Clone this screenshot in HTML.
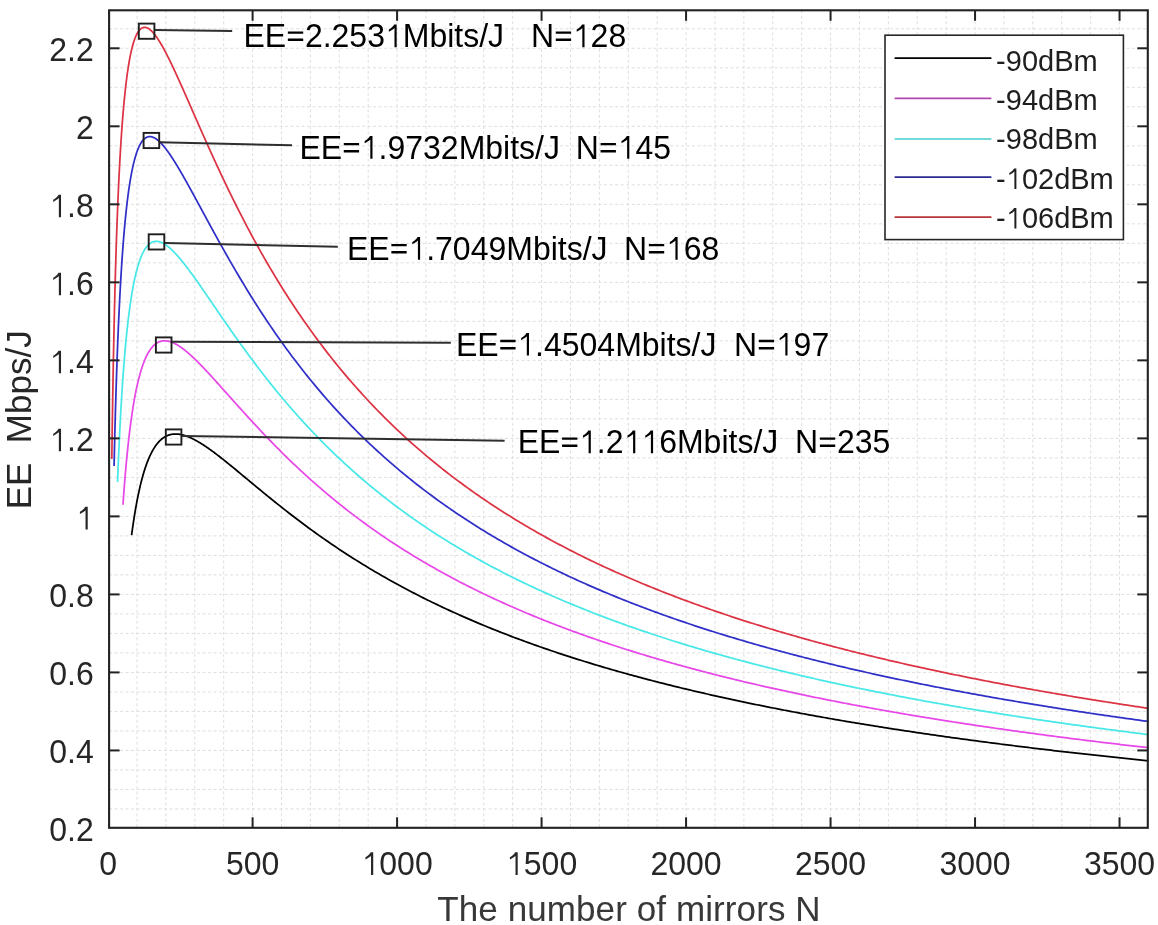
<!DOCTYPE html>
<html><head><meta charset="utf-8"><style>html,body{margin:0;padding:0;width:1158px;height:925px;overflow:hidden;background:#fff} svg{font-family:"Liberation Sans",sans-serif}</style></head>
<body><svg width="1158" height="925" viewBox="0 0 1158 925" style="position:absolute;left:0;top:0;will-change:transform">

<g stroke="#dedede" stroke-width="1" stroke-dasharray="3 2.5"><line x1="137.01" y1="10.3" x2="137.01" y2="827.8"/><line x1="165.91" y1="10.3" x2="165.91" y2="827.8"/><line x1="194.80" y1="10.3" x2="194.80" y2="827.8"/><line x1="223.70" y1="10.3" x2="223.70" y2="827.8"/><line x1="252.60" y1="10.3" x2="252.60" y2="827.8"/><line x1="281.50" y1="10.3" x2="281.50" y2="827.8"/><line x1="310.40" y1="10.3" x2="310.40" y2="827.8"/><line x1="339.29" y1="10.3" x2="339.29" y2="827.8"/><line x1="368.19" y1="10.3" x2="368.19" y2="827.8"/><line x1="397.09" y1="10.3" x2="397.09" y2="827.8"/><line x1="425.99" y1="10.3" x2="425.99" y2="827.8"/><line x1="454.89" y1="10.3" x2="454.89" y2="827.8"/><line x1="483.78" y1="10.3" x2="483.78" y2="827.8"/><line x1="512.68" y1="10.3" x2="512.68" y2="827.8"/><line x1="541.58" y1="10.3" x2="541.58" y2="827.8"/><line x1="570.48" y1="10.3" x2="570.48" y2="827.8"/><line x1="599.38" y1="10.3" x2="599.38" y2="827.8"/><line x1="628.27" y1="10.3" x2="628.27" y2="827.8"/><line x1="657.17" y1="10.3" x2="657.17" y2="827.8"/><line x1="686.07" y1="10.3" x2="686.07" y2="827.8"/><line x1="714.97" y1="10.3" x2="714.97" y2="827.8"/><line x1="743.87" y1="10.3" x2="743.87" y2="827.8"/><line x1="772.76" y1="10.3" x2="772.76" y2="827.8"/><line x1="801.66" y1="10.3" x2="801.66" y2="827.8"/><line x1="830.56" y1="10.3" x2="830.56" y2="827.8"/><line x1="859.46" y1="10.3" x2="859.46" y2="827.8"/><line x1="888.36" y1="10.3" x2="888.36" y2="827.8"/><line x1="917.25" y1="10.3" x2="917.25" y2="827.8"/><line x1="946.15" y1="10.3" x2="946.15" y2="827.8"/><line x1="975.05" y1="10.3" x2="975.05" y2="827.8"/><line x1="1003.95" y1="10.3" x2="1003.95" y2="827.8"/><line x1="1032.85" y1="10.3" x2="1032.85" y2="827.8"/><line x1="1061.74" y1="10.3" x2="1061.74" y2="827.8"/><line x1="1090.64" y1="10.3" x2="1090.64" y2="827.8"/><line x1="1119.54" y1="10.3" x2="1119.54" y2="827.8"/><line x1="109.1" y1="808.95" x2="1147.8" y2="808.95"/><line x1="109.1" y1="789.45" x2="1147.8" y2="789.45"/><line x1="109.1" y1="769.94" x2="1147.8" y2="769.94"/><line x1="109.1" y1="750.44" x2="1147.8" y2="750.44"/><line x1="109.1" y1="730.93" x2="1147.8" y2="730.93"/><line x1="109.1" y1="711.43" x2="1147.8" y2="711.43"/><line x1="109.1" y1="691.93" x2="1147.8" y2="691.93"/><line x1="109.1" y1="672.42" x2="1147.8" y2="672.42"/><line x1="109.1" y1="652.92" x2="1147.8" y2="652.92"/><line x1="109.1" y1="633.41" x2="1147.8" y2="633.41"/><line x1="109.1" y1="613.91" x2="1147.8" y2="613.91"/><line x1="109.1" y1="594.41" x2="1147.8" y2="594.41"/><line x1="109.1" y1="574.90" x2="1147.8" y2="574.90"/><line x1="109.1" y1="555.40" x2="1147.8" y2="555.40"/><line x1="109.1" y1="535.89" x2="1147.8" y2="535.89"/><line x1="109.1" y1="516.39" x2="1147.8" y2="516.39"/><line x1="109.1" y1="496.89" x2="1147.8" y2="496.89"/><line x1="109.1" y1="477.38" x2="1147.8" y2="477.38"/><line x1="109.1" y1="457.88" x2="1147.8" y2="457.88"/><line x1="109.1" y1="438.37" x2="1147.8" y2="438.37"/><line x1="109.1" y1="418.87" x2="1147.8" y2="418.87"/><line x1="109.1" y1="399.37" x2="1147.8" y2="399.37"/><line x1="109.1" y1="379.86" x2="1147.8" y2="379.86"/><line x1="109.1" y1="360.36" x2="1147.8" y2="360.36"/><line x1="109.1" y1="340.85" x2="1147.8" y2="340.85"/><line x1="109.1" y1="321.35" x2="1147.8" y2="321.35"/><line x1="109.1" y1="301.85" x2="1147.8" y2="301.85"/><line x1="109.1" y1="282.34" x2="1147.8" y2="282.34"/><line x1="109.1" y1="262.84" x2="1147.8" y2="262.84"/><line x1="109.1" y1="243.33" x2="1147.8" y2="243.33"/><line x1="109.1" y1="223.83" x2="1147.8" y2="223.83"/><line x1="109.1" y1="204.33" x2="1147.8" y2="204.33"/><line x1="109.1" y1="184.82" x2="1147.8" y2="184.82"/><line x1="109.1" y1="165.32" x2="1147.8" y2="165.32"/><line x1="109.1" y1="145.81" x2="1147.8" y2="145.81"/><line x1="109.1" y1="126.31" x2="1147.8" y2="126.31"/><line x1="109.1" y1="106.81" x2="1147.8" y2="106.81"/><line x1="109.1" y1="87.30" x2="1147.8" y2="87.30"/><line x1="109.1" y1="67.80" x2="1147.8" y2="67.80"/><line x1="109.1" y1="48.29" x2="1147.8" y2="48.29"/><line x1="109.1" y1="28.79" x2="1147.8" y2="28.79"/></g>
<polyline fill="none" stroke="#000000" stroke-width="1.75" stroke-linejoin="round" points="131.59,535.21 131.89,532.91 132.20,530.65 132.51,528.45 132.82,526.29 133.13,524.17 133.44,522.10 133.74,520.07 134.05,518.09 134.36,516.14 134.67,514.24 134.98,512.37 135.28,510.55 135.59,508.76 135.90,507.00 136.21,505.29 136.52,503.61 136.82,501.96 137.13,500.35 137.44,498.77 137.75,497.22 138.06,495.70 138.36,494.22 138.67,492.76 138.98,491.34 139.29,489.94 139.60,488.57 139.90,487.23 140.21,485.92 140.52,484.63 140.83,483.37 141.14,482.14 141.45,480.93 141.75,479.75 142.06,478.59 142.37,477.45 142.68,476.34 142.99,475.25 143.29,474.18 143.60,473.13 143.91,472.11 144.22,471.11 144.53,470.12 144.83,469.16 145.14,468.22 145.45,467.30 145.76,466.39 146.07,465.51 146.37,464.64 146.68,463.79 146.99,462.96 147.30,462.15 147.61,461.35 147.91,460.58 148.22,459.81 148.53,459.07 148.84,458.34 149.15,457.62 149.46,456.92 149.76,456.24 150.07,455.57 150.38,454.92 150.69,454.28 151.00,453.65 151.30,453.04 151.61,452.44 151.92,451.86 152.23,451.28 152.54,450.73 152.84,450.18 153.15,449.65 153.46,449.12 153.77,448.61 154.08,448.12 154.38,447.63 154.69,447.16 155.00,446.69 155.31,446.24 155.62,445.80 155.92,445.37 156.23,444.95 156.54,444.54 156.85,444.14 157.16,443.75 157.47,443.37 157.77,443.01 158.08,442.65 158.39,442.29 158.70,441.95 159.01,441.62 159.31,441.30 159.62,440.98 159.93,440.68 160.24,440.38 160.55,440.09 160.85,439.81 161.16,439.54 161.47,439.28 161.78,439.02 162.09,438.77 162.39,438.53 162.70,438.30 163.01,438.07 163.32,437.85 163.63,437.64 163.93,437.44 164.24,437.24 164.55,437.05 164.86,436.87 165.17,436.69 165.48,436.52 165.78,436.35 166.09,436.20 166.40,436.04 166.71,435.90 167.02,435.76 167.32,435.63 167.63,435.50 167.94,435.38 168.25,435.26 168.56,435.15 168.86,435.05 169.17,434.95 169.48,434.86 169.79,434.77 170.10,434.68 170.40,434.61 170.71,434.53 171.02,434.46 171.33,434.40 171.64,434.34 171.94,434.29 172.25,434.24 172.56,434.20 172.87,434.16 173.18,434.12 173.49,434.09 173.79,434.07 174.10,434.04 174.41,434.03 174.72,434.01 175.03,434.00 175.33,434.00 175.64,434.00 175.95,434.00 176.26,434.01 176.57,434.02 176.87,434.03 177.18,434.05 177.49,434.07 177.80,434.10 178.11,434.13 178.41,434.16 178.72,434.19 179.03,434.23 179.34,434.28 179.65,434.32 179.95,434.37 180.26,434.42 180.57,434.48 180.88,434.54 181.19,434.60 181.50,434.67 181.80,434.73 182.11,434.80 182.42,434.88 182.73,434.95 183.04,435.03 183.34,435.12 183.65,435.20 183.96,435.29 184.27,435.38 184.58,435.47 184.88,435.57 185.19,435.67 185.50,435.77 185.81,435.87 186.12,435.98 186.42,436.09 186.73,436.20 187.04,436.31 187.35,436.43 187.66,436.54 187.96,436.66 188.27,436.79 188.58,436.91 188.89,437.04 189.20,437.17 189.51,437.30 189.81,437.43 190.12,437.56 190.43,437.70 190.74,437.84 191.05,437.98 191.35,438.12 191.66,438.27 191.97,438.42 192.28,438.56 192.59,438.71 192.89,438.87 193.20,439.02 193.51,439.18 193.82,439.33 194.13,439.49 194.43,439.65 194.74,439.82 195.05,439.98 195.36,440.15 195.67,440.31 195.97,440.48 196.28,440.65 196.59,440.82 196.90,441.00 197.21,441.17 197.52,441.35 197.82,441.53 198.13,441.70 198.44,441.88 198.75,442.07 199.06,442.25 199.36,442.43 199.67,442.62 199.98,442.81 200.29,443.00 200.60,443.19 200.90,443.38 201.21,443.57 201.52,443.76 201.83,443.96 202.14,444.15 202.44,444.35 202.75,444.55 203.06,444.75 203.37,444.95 203.68,445.15 203.99,445.35 204.29,445.55 204.60,445.76 204.91,445.96 205.22,446.17 205.53,446.38 205.83,446.58 206.14,446.79 206.45,447.00 206.76,447.22 207.07,447.43 207.37,447.64 207.68,447.85 207.99,448.07 208.30,448.28 208.61,448.50 208.91,448.72 209.22,448.94 209.53,449.16 209.84,449.38 210.15,449.60 210.45,449.82 210.76,450.04 211.07,450.26 211.38,450.49 211.69,450.71 212.00,450.93 212.30,451.16 212.61,451.39 212.92,451.61 213.23,451.84 213.54,452.07 213.84,452.30 214.15,452.53 214.46,452.76 214.77,452.99 215.08,453.22 215.38,453.45 215.69,453.69 216.00,453.92 216.31,454.15 216.62,454.39 216.92,454.62 217.23,454.86 217.54,455.09 217.85,455.33 218.16,455.57 218.46,455.80 218.77,456.04 219.08,456.28 219.39,456.52 219.70,456.76 220.01,457.00 220.31,457.24 220.62,457.48 220.93,457.72 221.24,457.96 221.55,458.20 221.85,458.45 222.16,458.69 222.47,458.93 222.78,459.18 223.09,459.42 223.39,459.66 223.70,459.91 223.99,460.14 226.31,461.99 228.62,463.86 230.94,465.75 233.26,467.64 235.58,469.55 237.89,471.46 240.21,473.38 242.53,475.30 244.84,477.23 247.16,479.15 249.48,481.08 251.79,483.00 254.11,484.93 256.43,486.84 258.74,488.76 261.06,490.67 263.38,492.57 265.70,494.47 268.01,496.36 270.33,498.24 272.65,500.11 274.96,501.98 277.28,503.83 279.60,505.68 281.91,507.51 284.23,509.34 286.55,511.15 288.86,512.95 291.18,514.75 293.50,516.53 295.82,518.30 298.13,520.06 300.45,521.80 302.77,523.54 305.08,525.26 307.40,526.97 309.72,528.67 312.03,530.36 314.35,532.03 316.67,533.70 318.98,535.35 321.30,536.99 323.62,538.61 325.94,540.23 328.25,541.83 330.57,543.42 332.89,545.00 335.20,546.56 337.52,548.11 339.84,549.66 342.15,551.19 344.47,552.71 346.79,554.21 349.10,555.71 351.42,557.19 353.74,558.66 356.05,560.12 358.37,561.57 360.69,563.01 363.01,564.43 365.32,565.85 367.64,567.25 369.96,568.64 372.27,570.03 374.59,571.40 376.91,572.76 379.22,574.11 381.54,575.45 383.86,576.78 386.17,578.09 388.49,579.40 390.81,580.70 393.13,581.99 395.44,583.27 397.76,584.53 400.08,585.79 402.39,587.04 404.71,588.28 407.03,589.51 409.34,590.73 411.66,591.94 413.98,593.14 416.29,594.33 418.61,595.52 420.93,596.69 423.25,597.85 425.56,599.01 427.88,600.16 430.20,601.30 432.51,602.43 434.83,603.55 437.15,604.66 439.46,605.77 441.78,606.86 444.10,607.95 446.41,609.03 448.73,610.11 451.05,611.17 453.37,612.23 455.68,613.28 458.00,614.32 460.32,615.35 462.63,616.38 464.95,617.40 467.27,618.41 469.58,619.41 471.90,620.41 474.22,621.40 476.53,622.38 478.85,623.36 481.17,624.33 483.48,625.29 485.80,626.24 488.12,627.19 490.44,628.13 492.75,629.07 495.07,630.00 497.39,630.92 499.70,631.83 502.02,632.74 504.34,633.65 506.65,634.54 508.97,635.43 511.29,636.32 513.60,637.20 515.92,638.07 518.24,638.93 520.56,639.80 522.87,640.65 525.19,641.50 527.51,642.34 529.82,643.18 532.14,644.01 534.46,644.84 536.77,645.66 539.09,646.48 541.41,647.29 543.72,648.09 546.04,648.89 548.36,649.69 550.68,650.48 552.99,651.26 555.31,652.04 557.63,652.81 559.94,653.58 562.26,654.35 564.58,655.11 566.89,655.86 569.21,656.61 571.53,657.36 573.84,658.10 576.16,658.83 578.48,659.56 580.80,660.29 583.11,661.01 585.43,661.73 587.75,662.44 590.06,663.15 592.38,663.85 594.70,664.55 597.01,665.25 599.33,665.94 601.65,666.63 603.96,667.31 606.28,667.99 608.60,668.66 610.91,669.33 613.23,670.00 615.55,670.66 617.87,671.32 620.18,671.98 622.50,672.63 624.82,673.28 627.13,673.92 629.45,674.56 631.77,675.19 634.08,675.83 636.40,676.45 638.72,677.08 641.03,677.70 643.35,678.32 645.67,678.93 647.99,679.54 650.30,680.15 652.62,680.75 654.94,681.35 657.25,681.95 659.57,682.54 661.89,683.13 664.20,683.72 666.52,684.30 668.84,684.88 671.15,685.46 673.47,686.03 675.79,686.60 678.11,687.17 680.42,687.73 682.74,688.29 685.06,688.85 687.37,689.41 689.69,689.96 692.01,690.51 694.32,691.05 696.64,691.59 698.96,692.13 701.27,692.67 703.59,693.21 705.91,693.74 708.23,694.27 710.54,694.79 712.86,695.31 715.18,695.83 717.49,696.35 719.81,696.87 722.13,697.38 724.44,697.89 726.76,698.39 729.08,698.90 731.39,699.40 733.71,699.90 736.03,700.39 738.34,700.89 740.66,701.38 742.98,701.87 745.30,702.35 747.61,702.84 749.93,703.32 752.25,703.79 754.56,704.27 756.88,704.74 759.20,705.22 761.51,705.68 763.83,706.15 766.15,706.62 768.46,707.08 770.78,707.54 773.10,708.00 775.42,708.45 777.73,708.90 780.05,709.35 782.37,709.80 784.68,710.25 787.00,710.69 789.32,711.13 791.63,711.57 793.95,712.01 796.27,712.45 798.58,712.88 800.90,713.31 803.22,713.74 805.54,714.17 807.85,714.59 810.17,715.02 812.49,715.44 814.80,715.86 817.12,716.27 819.44,716.69 821.75,717.10 824.07,717.51 826.39,717.92 828.70,718.33 831.02,718.74 833.34,719.14 835.66,719.54 837.97,719.94 840.29,720.34 842.61,720.74 844.92,721.13 847.24,721.52 849.56,721.92 851.87,722.30 854.19,722.69 856.51,723.08 858.82,723.46 861.14,723.84 863.46,724.22 865.78,724.60 868.09,724.98 870.41,725.35 872.73,725.73 875.04,726.10 877.36,726.47 879.68,726.84 881.99,727.21 884.31,727.57 886.63,727.94 888.94,728.30 891.26,728.66 893.58,729.02 895.89,729.38 898.21,729.73 900.53,730.09 902.85,730.44 905.16,730.79 907.48,731.14 909.80,731.49 912.11,731.84 914.43,732.18 916.75,732.52 919.06,732.87 921.38,733.21 923.70,733.55 926.01,733.89 928.33,734.22 930.65,734.56 932.97,734.89 935.28,735.22 937.60,735.55 939.92,735.88 942.23,736.21 944.55,736.54 946.87,736.87 949.18,737.19 951.50,737.51 953.82,737.83 956.13,738.15 958.45,738.47 960.77,738.79 963.09,739.11 965.40,739.42 967.72,739.74 970.04,740.05 972.35,740.36 974.67,740.67 976.99,740.98 979.30,741.29 981.62,741.59 983.94,741.90 986.25,742.20 988.57,742.50 990.89,742.81 993.21,743.11 995.52,743.40 997.84,743.70 1000.16,744.00 1002.47,744.29 1004.79,744.59 1007.11,744.88 1009.42,745.17 1011.74,745.47 1014.06,745.75 1016.37,746.04 1018.69,746.33 1021.01,746.62 1023.32,746.90 1025.64,747.19 1027.96,747.47 1030.28,747.75 1032.59,748.03 1034.91,748.31 1037.23,748.59 1039.54,748.87 1041.86,749.15 1044.18,749.42 1046.49,749.70 1048.81,749.97 1051.13,750.24 1053.44,750.51 1055.76,750.78 1058.08,751.05 1060.40,751.32 1062.71,751.59 1065.03,751.86 1067.35,752.12 1069.66,752.39 1071.98,752.65 1074.30,752.91 1076.61,753.17 1078.93,753.43 1081.25,753.69 1083.56,753.95 1085.88,754.21 1088.20,754.47 1090.52,754.72 1092.83,754.98 1095.15,755.23 1097.47,755.49 1099.78,755.74 1102.10,755.99 1104.42,756.24 1106.73,756.49 1109.05,756.74 1111.37,756.98 1113.68,757.23 1116.00,757.48 1118.32,757.72 1120.64,757.97 1122.95,758.21 1125.27,758.45 1127.59,758.69 1129.90,758.93 1132.22,759.17 1134.54,759.41 1136.85,759.65 1139.17,759.89 1141.49,760.13 1143.80,760.36 1146.12,760.60 1148.44,760.83"/><polyline fill="none" stroke="#e848e8" stroke-width="1.75" stroke-linejoin="round" points="122.98,504.69 123.31,499.88 123.65,495.22 123.99,490.69 124.32,486.30 124.66,482.04 125.00,477.90 125.33,473.89 125.67,469.99 126.01,466.20 126.34,462.52 126.68,458.94 127.02,455.47 127.35,452.09 127.69,448.81 128.03,445.62 128.37,442.52 128.70,439.50 129.04,436.57 129.38,433.71 129.71,430.94 130.05,428.24 130.39,425.61 130.72,423.05 131.06,420.57 131.40,418.15 131.73,415.79 132.07,413.50 132.41,411.27 132.74,409.09 133.08,406.98 133.42,404.92 133.76,402.92 134.09,400.96 134.43,399.06 134.77,397.22 135.10,395.42 135.44,393.66 135.78,391.96 136.11,390.29 136.45,388.68 136.79,387.10 137.12,385.57 137.46,384.08 137.80,382.62 138.13,381.21 138.47,379.83 138.81,378.49 139.15,377.19 139.48,375.92 139.82,374.68 140.16,373.48 140.49,372.31 140.83,371.17 141.17,370.07 141.50,368.99 141.84,367.94 142.18,366.93 142.51,365.94 142.85,364.97 143.19,364.04 143.52,363.13 143.86,362.24 144.20,361.38 144.54,360.55 144.87,359.74 145.21,358.95 145.55,358.19 145.88,357.45 146.22,356.73 146.56,356.03 146.89,355.36 147.23,354.70 147.57,354.06 147.90,353.45 148.24,352.85 148.58,352.27 148.91,351.71 149.25,351.17 149.59,350.65 149.93,350.14 150.26,349.65 150.60,349.18 150.94,348.72 151.27,348.28 151.61,347.86 151.95,347.45 152.28,347.06 152.62,346.68 152.96,346.31 153.29,345.96 153.63,345.62 153.97,345.30 154.30,344.99 154.64,344.69 154.98,344.41 155.32,344.14 155.65,343.88 155.99,343.63 156.33,343.40 156.66,343.17 157.00,342.96 157.34,342.76 157.67,342.57 158.01,342.39 158.35,342.22 158.68,342.06 159.02,341.91 159.36,341.78 159.69,341.65 160.03,341.53 160.37,341.42 160.71,341.32 161.04,341.23 161.38,341.15 161.72,341.07 162.05,341.01 162.39,340.95 162.73,340.90 163.06,340.86 163.40,340.83 163.74,340.81 164.07,340.79 164.41,340.78 164.75,340.78 165.09,340.79 165.42,340.80 165.76,340.82 166.10,340.84 166.43,340.88 166.77,340.92 167.11,340.96 167.44,341.02 167.78,341.08 168.12,341.14 168.45,341.21 168.79,341.29 169.13,341.37 169.46,341.46 169.80,341.56 170.14,341.66 170.48,341.76 170.81,341.87 171.15,341.99 171.49,342.11 171.82,342.24 172.16,342.37 172.50,342.51 172.83,342.65 173.17,342.79 173.51,342.94 173.84,343.10 174.18,343.26 174.52,343.42 174.85,343.59 175.19,343.76 175.53,343.94 175.87,344.12 176.20,344.30 176.54,344.49 176.88,344.69 177.21,344.88 177.55,345.08 177.89,345.29 178.22,345.49 178.56,345.70 178.90,345.92 179.23,346.14 179.57,346.36 179.91,346.58 180.24,346.81 180.58,347.04 180.92,347.27 181.26,347.51 181.59,347.75 181.93,347.99 182.27,348.24 182.60,348.49 182.94,348.74 183.28,349.00 183.61,349.25 183.95,349.51 184.29,349.78 184.62,350.04 184.96,350.31 185.30,350.58 185.63,350.85 185.97,351.12 186.31,351.40 186.65,351.68 186.98,351.96 187.32,352.25 187.66,352.53 187.99,352.82 188.33,353.11 188.67,353.40 189.00,353.70 189.34,353.99 189.68,354.29 190.01,354.59 190.35,354.90 190.69,355.20 191.02,355.51 191.36,355.81 191.70,356.12 192.04,356.43 192.37,356.75 192.71,357.06 193.05,357.38 193.38,357.69 193.72,358.01 194.06,358.33 194.39,358.66 194.73,358.98 195.07,359.30 195.40,359.63 195.74,359.96 196.08,360.29 196.41,360.62 196.75,360.95 197.09,361.28 197.43,361.62 197.76,361.95 198.10,362.29 198.44,362.63 198.77,362.97 199.11,363.31 199.45,363.65 199.78,363.99 200.12,364.34 200.46,364.68 200.79,365.03 201.13,365.37 201.47,365.72 201.80,366.07 202.14,366.42 202.48,366.77 202.82,367.12 203.15,367.47 203.49,367.82 203.83,368.18 204.16,368.53 204.50,368.89 204.84,369.24 205.17,369.60 205.51,369.96 205.85,370.32 206.18,370.68 206.52,371.04 206.86,371.40 207.19,371.76 207.53,372.12 207.87,372.48 208.21,372.84 208.54,373.21 208.88,373.57 209.22,373.94 209.55,374.30 209.89,374.67 210.23,375.03 210.56,375.40 210.90,375.77 211.24,376.14 211.57,376.50 211.91,376.87 212.25,377.24 212.58,377.61 212.92,377.98 213.26,378.35 213.60,378.72 213.93,379.09 214.27,379.47 214.61,379.84 214.94,380.21 215.28,380.58 215.62,380.96 215.95,381.33 216.29,381.70 216.63,382.08 216.96,382.45 217.30,382.82 217.64,383.20 217.98,383.57 218.31,383.95 218.65,384.32 218.99,384.70 219.32,385.08 219.66,385.45 220.00,385.83 220.33,386.20 220.67,386.58 221.01,386.96 221.34,387.33 221.68,387.71 222.02,388.09 222.35,388.46 222.69,388.84 223.03,389.22 223.37,389.60 223.70,389.97 223.99,390.30 226.31,392.90 228.62,395.50 230.94,398.09 233.26,400.69 235.58,403.28 237.89,405.87 240.21,408.44 242.53,411.01 244.84,413.57 247.16,416.12 249.48,418.65 251.79,421.18 254.11,423.68 256.43,426.18 258.74,428.66 261.06,431.12 263.38,433.57 265.70,436.00 268.01,438.41 270.33,440.81 272.65,443.19 274.96,445.55 277.28,447.89 279.60,450.22 281.91,452.53 284.23,454.82 286.55,457.09 288.86,459.34 291.18,461.58 293.50,463.79 295.82,465.99 298.13,468.17 300.45,470.33 302.77,472.47 305.08,474.59 307.40,476.70 309.72,478.79 312.03,480.86 314.35,482.91 316.67,484.94 318.98,486.96 321.30,488.96 323.62,490.94 325.94,492.90 328.25,494.85 330.57,496.78 332.89,498.69 335.20,500.59 337.52,502.47 339.84,504.33 342.15,506.18 344.47,508.01 346.79,509.82 349.10,511.62 351.42,513.40 353.74,515.17 356.05,516.92 358.37,518.66 360.69,520.38 363.01,522.08 365.32,523.78 367.64,525.45 369.96,527.11 372.27,528.76 374.59,530.40 376.91,532.01 379.22,533.62 381.54,535.21 383.86,536.79 386.17,538.36 388.49,539.91 390.81,541.45 393.13,542.97 395.44,544.48 397.76,545.98 400.08,547.47 402.39,548.95 404.71,550.41 407.03,551.86 409.34,553.30 411.66,554.72 413.98,556.14 416.29,557.54 418.61,558.93 420.93,560.31 423.25,561.68 425.56,563.04 427.88,564.39 430.20,565.72 432.51,567.05 434.83,568.36 437.15,569.67 439.46,570.96 441.78,572.25 444.10,573.52 446.41,574.78 448.73,576.04 451.05,577.28 453.37,578.51 455.68,579.74 458.00,580.95 460.32,582.16 462.63,583.36 464.95,584.54 467.27,585.72 469.58,586.89 471.90,588.05 474.22,589.20 476.53,590.34 478.85,591.48 481.17,592.60 483.48,593.72 485.80,594.83 488.12,595.93 490.44,597.02 492.75,598.11 495.07,599.18 497.39,600.25 499.70,601.31 502.02,602.37 504.34,603.41 506.65,604.45 508.97,605.48 511.29,606.50 513.60,607.52 515.92,608.53 518.24,609.53 520.56,610.52 522.87,611.51 525.19,612.49 527.51,613.46 529.82,614.43 532.14,615.39 534.46,616.34 536.77,617.29 539.09,618.23 541.41,619.16 543.72,620.09 546.04,621.01 548.36,621.93 550.68,622.84 552.99,623.74 555.31,624.63 557.63,625.52 559.94,626.41 562.26,627.29 564.58,628.16 566.89,629.03 569.21,629.89 571.53,630.74 573.84,631.59 576.16,632.44 578.48,633.28 580.80,634.11 583.11,634.94 585.43,635.76 587.75,636.58 590.06,637.39 592.38,638.19 594.70,639.00 597.01,639.79 599.33,640.58 601.65,641.37 603.96,642.15 606.28,642.93 608.60,643.70 610.91,644.47 613.23,645.23 615.55,645.99 617.87,646.74 620.18,647.49 622.50,648.23 624.82,648.97 627.13,649.71 629.45,650.44 631.77,651.16 634.08,651.88 636.40,652.60 638.72,653.31 641.03,654.02 643.35,654.72 645.67,655.42 647.99,656.12 650.30,656.81 652.62,657.50 654.94,658.18 657.25,658.86 659.57,659.54 661.89,660.21 664.20,660.88 666.52,661.54 668.84,662.20 671.15,662.86 673.47,663.51 675.79,664.16 678.11,664.80 680.42,665.45 682.74,666.08 685.06,666.72 687.37,667.35 689.69,667.97 692.01,668.60 694.32,669.22 696.64,669.83 698.96,670.45 701.27,671.06 703.59,671.66 705.91,672.27 708.23,672.87 710.54,673.46 712.86,674.06 715.18,674.65 717.49,675.23 719.81,675.82 722.13,676.40 724.44,676.97 726.76,677.55 729.08,678.12 731.39,678.69 733.71,679.25 736.03,679.81 738.34,680.37 740.66,680.93 742.98,681.48 745.30,682.03 747.61,682.58 749.93,683.12 752.25,683.67 754.56,684.20 756.88,684.74 759.20,685.27 761.51,685.80 763.83,686.33 766.15,686.86 768.46,687.38 770.78,687.90 773.10,688.42 775.42,688.93 777.73,689.44 780.05,689.95 782.37,690.46 784.68,690.96 787.00,691.46 789.32,691.96 791.63,692.46 793.95,692.95 796.27,693.45 798.58,693.94 800.90,694.42 803.22,694.91 805.54,695.39 807.85,695.87 810.17,696.35 812.49,696.82 814.80,697.29 817.12,697.76 819.44,698.23 821.75,698.70 824.07,699.16 826.39,699.62 828.70,700.08 831.02,700.54 833.34,701.00 835.66,701.45 837.97,701.90 840.29,702.35 842.61,702.79 844.92,703.24 847.24,703.68 849.56,704.12 851.87,704.56 854.19,705.00 856.51,705.43 858.82,705.86 861.14,706.29 863.46,706.72 865.78,707.15 868.09,707.57 870.41,707.99 872.73,708.41 875.04,708.83 877.36,709.25 879.68,709.66 881.99,710.07 884.31,710.49 886.63,710.89 888.94,711.30 891.26,711.71 893.58,712.11 895.89,712.51 898.21,712.91 900.53,713.31 902.85,713.71 905.16,714.10 907.48,714.49 909.80,714.89 912.11,715.28 914.43,715.66 916.75,716.05 919.06,716.43 921.38,716.82 923.70,717.20 926.01,717.58 928.33,717.96 930.65,718.33 932.97,718.71 935.28,719.08 937.60,719.45 939.92,719.82 942.23,720.19 944.55,720.56 946.87,720.92 949.18,721.28 951.50,721.65 953.82,722.01 956.13,722.37 958.45,722.72 960.77,723.08 963.09,723.43 965.40,723.79 967.72,724.14 970.04,724.49 972.35,724.84 974.67,725.18 976.99,725.53 979.30,725.87 981.62,726.22 983.94,726.56 986.25,726.90 988.57,727.24 990.89,727.58 993.21,727.91 995.52,728.25 997.84,728.58 1000.16,728.91 1002.47,729.24 1004.79,729.57 1007.11,729.90 1009.42,730.23 1011.74,730.55 1014.06,730.88 1016.37,731.20 1018.69,731.52 1021.01,731.84 1023.32,732.16 1025.64,732.48 1027.96,732.80 1030.28,733.11 1032.59,733.43 1034.91,733.74 1037.23,734.05 1039.54,734.36 1041.86,734.67 1044.18,734.98 1046.49,735.28 1048.81,735.59 1051.13,735.89 1053.44,736.20 1055.76,736.50 1058.08,736.80 1060.40,737.10 1062.71,737.40 1065.03,737.70 1067.35,737.99 1069.66,738.29 1071.98,738.58 1074.30,738.88 1076.61,739.17 1078.93,739.46 1081.25,739.75 1083.56,740.04 1085.88,740.33 1088.20,740.61 1090.52,740.90 1092.83,741.18 1095.15,741.47 1097.47,741.75 1099.78,742.03 1102.10,742.31 1104.42,742.59 1106.73,742.87 1109.05,743.15 1111.37,743.42 1113.68,743.70 1116.00,743.97 1118.32,744.24 1120.64,744.52 1122.95,744.79 1125.27,745.06 1127.59,745.33 1129.90,745.60 1132.22,745.86 1134.54,746.13 1136.85,746.40 1139.17,746.66 1141.49,746.92 1143.80,747.19 1146.12,747.45 1148.44,747.71"/><polyline fill="none" stroke="#48e8e8" stroke-width="1.75" stroke-linejoin="round" points="117.52,481.96 117.88,472.92 118.24,464.26 118.59,455.97 118.95,448.03 119.30,440.42 119.66,433.11 120.01,426.10 120.37,419.37 120.72,412.89 121.08,406.67 121.43,400.69 121.79,394.93 122.14,389.38 122.50,384.04 122.85,378.89 123.21,373.93 123.56,369.15 123.92,364.53 124.27,360.08 124.63,355.78 124.98,351.64 125.34,347.63 125.69,343.76 126.05,340.03 126.40,336.41 126.76,332.92 127.11,329.55 127.47,326.29 127.82,323.14 128.18,320.09 128.53,317.14 128.89,314.29 129.24,311.53 129.60,308.86 129.95,306.28 130.31,303.78 130.66,301.36 131.02,299.03 131.37,296.76 131.73,294.57 132.08,292.45 132.44,290.40 132.79,288.42 133.15,286.50 133.50,284.64 133.86,282.84 134.22,281.10 134.57,279.42 134.93,277.79 135.28,276.22 135.64,274.70 135.99,273.23 136.35,271.80 136.70,270.43 137.06,269.10 137.41,267.82 137.77,266.57 138.12,265.38 138.48,264.22 138.83,263.10 139.19,262.02 139.54,260.98 139.90,259.98 140.25,259.01 140.61,258.08 140.96,257.18 141.32,256.32 141.67,255.48 142.03,254.68 142.38,253.91 142.74,253.17 143.09,252.46 143.45,251.78 143.80,251.12 144.16,250.49 144.51,249.89 144.87,249.31 145.22,248.76 145.58,248.23 145.93,247.73 146.29,247.25 146.64,246.79 147.00,246.36 147.35,245.94 147.71,245.55 148.06,245.18 148.42,244.83 148.77,244.50 149.13,244.18 149.48,243.89 149.84,243.61 150.19,243.36 150.55,243.11 150.91,242.89 151.26,242.69 151.62,242.49 151.97,242.32 152.33,242.16 152.68,242.02 153.04,241.89 153.39,241.78 153.75,241.68 154.10,241.59 154.46,241.52 154.81,241.46 155.17,241.41 155.52,241.38 155.88,241.36 156.23,241.35 156.59,241.36 156.94,241.37 157.30,241.40 157.65,241.44 158.01,241.49 158.36,241.54 158.72,241.61 159.07,241.70 159.43,241.79 159.78,241.89 160.14,242.00 160.49,242.11 160.85,242.24 161.20,242.38 161.56,242.53 161.91,242.68 162.27,242.84 162.62,243.02 162.98,243.20 163.33,243.38 163.69,243.58 164.04,243.78 164.40,243.99 164.75,244.21 165.11,244.43 165.46,244.67 165.82,244.91 166.17,245.15 166.53,245.40 166.88,245.66 167.24,245.93 167.60,246.20 167.95,246.47 168.31,246.76 168.66,247.04 169.02,247.34 169.37,247.64 169.73,247.94 170.08,248.25 170.44,248.57 170.79,248.89 171.15,249.21 171.50,249.54 171.86,249.88 172.21,250.22 172.57,250.56 172.92,250.91 173.28,251.27 173.63,251.62 173.99,251.99 174.34,252.35 174.70,252.72 175.05,253.10 175.41,253.47 175.76,253.85 176.12,254.24 176.47,254.63 176.83,255.02 177.18,255.42 177.54,255.82 177.89,256.22 178.25,256.62 178.60,257.03 178.96,257.44 179.31,257.86 179.67,258.28 180.02,258.70 180.38,259.12 180.73,259.55 181.09,259.98 181.44,260.41 181.80,260.84 182.15,261.28 182.51,261.72 182.86,262.16 183.22,262.61 183.57,263.05 183.93,263.50 184.29,263.95 184.64,264.41 185.00,264.86 185.35,265.32 185.71,265.78 186.06,266.24 186.42,266.70 186.77,267.17 187.13,267.64 187.48,268.10 187.84,268.57 188.19,269.05 188.55,269.52 188.90,270.00 189.26,270.47 189.61,270.95 189.97,271.43 190.32,271.91 190.68,272.40 191.03,272.88 191.39,273.37 191.74,273.85 192.10,274.34 192.45,274.83 192.81,275.32 193.16,275.81 193.52,276.31 193.87,276.80 194.23,277.30 194.58,277.79 194.94,278.29 195.29,278.79 195.65,279.29 196.00,279.79 196.36,280.29 196.71,280.79 197.07,281.29 197.42,281.80 197.78,282.30 198.13,282.81 198.49,283.31 198.84,283.82 199.20,284.33 199.55,284.84 199.91,285.34 200.26,285.85 200.62,286.36 200.98,286.87 201.33,287.39 201.69,287.90 202.04,288.41 202.40,288.92 202.75,289.43 203.11,289.95 203.46,290.46 203.82,290.98 204.17,291.49 204.53,292.01 204.88,292.52 205.24,293.04 205.59,293.55 205.95,294.07 206.30,294.59 206.66,295.10 207.01,295.62 207.37,296.14 207.72,296.66 208.08,297.18 208.43,297.69 208.79,298.21 209.14,298.73 209.50,299.25 209.85,299.77 210.21,300.29 210.56,300.80 210.92,301.32 211.27,301.84 211.63,302.36 211.98,302.88 212.34,303.40 212.69,303.92 213.05,304.44 213.40,304.96 213.76,305.48 214.11,306.00 214.47,306.52 214.82,307.03 215.18,307.55 215.53,308.07 215.89,308.59 216.24,309.11 216.60,309.63 216.95,310.15 217.31,310.67 217.67,311.18 218.02,311.70 218.38,312.22 218.73,312.74 219.09,313.26 219.44,313.77 219.80,314.29 220.15,314.81 220.51,315.32 220.86,315.84 221.22,316.36 221.57,316.87 221.93,317.39 222.28,317.90 222.64,318.42 222.99,318.94 223.35,319.45 223.70,319.96 223.99,320.38 226.31,323.73 228.62,327.06 230.94,330.38 233.26,333.68 235.58,336.96 237.89,340.22 240.21,343.46 242.53,346.68 244.84,349.87 247.16,353.04 249.48,356.18 251.79,359.31 254.11,362.40 256.43,365.47 258.74,368.52 261.06,371.54 263.38,374.53 265.70,377.49 268.01,380.43 270.33,383.35 272.65,386.23 274.96,389.10 277.28,391.93 279.60,394.74 281.91,397.52 284.23,400.27 286.55,403.00 288.86,405.70 291.18,408.38 293.50,411.03 295.82,413.66 298.13,416.26 300.45,418.83 302.77,421.38 305.08,423.91 307.40,426.41 309.72,428.89 312.03,431.34 314.35,433.77 316.67,436.18 318.98,438.56 321.30,440.92 323.62,443.25 325.94,445.57 328.25,447.86 330.57,450.13 332.89,452.38 335.20,454.60 337.52,456.81 339.84,458.99 342.15,461.16 344.47,463.30 346.79,465.42 349.10,467.52 351.42,469.60 353.74,471.67 356.05,473.71 358.37,475.73 360.69,477.74 363.01,479.73 365.32,481.69 367.64,483.64 369.96,485.57 372.27,487.49 374.59,489.38 376.91,491.26 379.22,493.12 381.54,494.97 383.86,496.80 386.17,498.61 388.49,500.40 390.81,502.18 393.13,503.95 395.44,505.69 397.76,507.43 400.08,509.14 402.39,510.84 404.71,512.53 407.03,514.20 409.34,515.86 411.66,517.50 413.98,519.13 416.29,520.75 418.61,522.35 420.93,523.93 423.25,525.51 425.56,527.07 427.88,528.61 430.20,530.15 432.51,531.67 434.83,533.18 437.15,534.67 439.46,536.15 441.78,537.62 444.10,539.08 446.41,540.53 448.73,541.96 451.05,543.39 453.37,544.80 455.68,546.20 458.00,547.59 460.32,548.96 462.63,550.33 464.95,551.69 467.27,553.03 469.58,554.37 471.90,555.69 474.22,557.00 476.53,558.30 478.85,559.60 481.17,560.88 483.48,562.15 485.80,563.42 488.12,564.67 490.44,565.91 492.75,567.15 495.07,568.37 497.39,569.59 499.70,570.79 502.02,571.99 504.34,573.18 506.65,574.36 508.97,575.53 511.29,576.69 513.60,577.84 515.92,578.98 518.24,580.12 520.56,581.25 522.87,582.37 525.19,583.48 527.51,584.58 529.82,585.68 532.14,586.77 534.46,587.85 536.77,588.92 539.09,589.98 541.41,591.04 543.72,592.09 546.04,593.13 548.36,594.17 550.68,595.19 552.99,596.21 555.31,597.23 557.63,598.23 559.94,599.23 562.26,600.23 564.58,601.21 566.89,602.19 569.21,603.16 571.53,604.13 573.84,605.09 576.16,606.04 578.48,606.99 580.80,607.93 583.11,608.86 585.43,609.79 587.75,610.71 590.06,611.62 592.38,612.53 594.70,613.44 597.01,614.33 599.33,615.23 601.65,616.11 603.96,616.99 606.28,617.87 608.60,618.74 610.91,619.60 613.23,620.46 615.55,621.31 617.87,622.16 620.18,623.00 622.50,623.83 624.82,624.67 627.13,625.49 629.45,626.31 631.77,627.13 634.08,627.94 636.40,628.74 638.72,629.54 641.03,630.34 643.35,631.13 645.67,631.92 647.99,632.70 650.30,633.47 652.62,634.25 654.94,635.01 657.25,635.78 659.57,636.53 661.89,637.29 664.20,638.04 666.52,638.78 668.84,639.52 671.15,640.26 673.47,640.99 675.79,641.72 678.11,642.44 680.42,643.16 682.74,643.87 685.06,644.58 687.37,645.29 689.69,645.99 692.01,646.69 694.32,647.38 696.64,648.07 698.96,648.76 701.27,649.44 703.59,650.12 705.91,650.80 708.23,651.47 710.54,652.13 712.86,652.80 715.18,653.46 717.49,654.11 719.81,654.77 722.13,655.41 724.44,656.06 726.76,656.70 729.08,657.34 731.39,657.97 733.71,658.61 736.03,659.23 738.34,659.86 740.66,660.48 742.98,661.10 745.30,661.71 747.61,662.32 749.93,662.93 752.25,663.54 754.56,664.14 756.88,664.74 759.20,665.33 761.51,665.92 763.83,666.51 766.15,667.10 768.46,667.68 770.78,668.26 773.10,668.84 775.42,669.41 777.73,669.98 780.05,670.55 782.37,671.11 784.68,671.68 787.00,672.24 789.32,672.79 791.63,673.35 793.95,673.90 796.27,674.44 798.58,674.99 800.90,675.53 803.22,676.07 805.54,676.61 807.85,677.14 810.17,677.67 812.49,678.20 814.80,678.73 817.12,679.25 819.44,679.78 821.75,680.29 824.07,680.81 826.39,681.32 828.70,681.84 831.02,682.34 833.34,682.85 835.66,683.35 837.97,683.86 840.29,684.35 842.61,684.85 844.92,685.34 847.24,685.84 849.56,686.33 851.87,686.81 854.19,687.30 856.51,687.78 858.82,688.26 861.14,688.74 863.46,689.21 865.78,689.69 868.09,690.16 870.41,690.63 872.73,691.10 875.04,691.56 877.36,692.02 879.68,692.48 881.99,692.94 884.31,693.40 886.63,693.85 888.94,694.30 891.26,694.75 893.58,695.20 895.89,695.65 898.21,696.09 900.53,696.53 902.85,696.97 905.16,697.41 907.48,697.85 909.80,698.28 912.11,698.72 914.43,699.15 916.75,699.57 919.06,700.00 921.38,700.42 923.70,700.85 926.01,701.27 928.33,701.69 930.65,702.10 932.97,702.52 935.28,702.93 937.60,703.35 939.92,703.76 942.23,704.16 944.55,704.57 946.87,704.97 949.18,705.38 951.50,705.78 953.82,706.18 956.13,706.58 958.45,706.97 960.77,707.37 963.09,707.76 965.40,708.15 967.72,708.54 970.04,708.93 972.35,709.31 974.67,709.70 976.99,710.08 979.30,710.46 981.62,710.84 983.94,711.22 986.25,711.60 988.57,711.97 990.89,712.35 993.21,712.72 995.52,713.09 997.84,713.46 1000.16,713.83 1002.47,714.19 1004.79,714.56 1007.11,714.92 1009.42,715.28 1011.74,715.64 1014.06,716.00 1016.37,716.36 1018.69,716.71 1021.01,717.07 1023.32,717.42 1025.64,717.77 1027.96,718.12 1030.28,718.47 1032.59,718.82 1034.91,719.16 1037.23,719.51 1039.54,719.85 1041.86,720.19 1044.18,720.53 1046.49,720.87 1048.81,721.21 1051.13,721.55 1053.44,721.88 1055.76,722.22 1058.08,722.55 1060.40,722.88 1062.71,723.21 1065.03,723.54 1067.35,723.87 1069.66,724.19 1071.98,724.52 1074.30,724.84 1076.61,725.16 1078.93,725.49 1081.25,725.81 1083.56,726.12 1085.88,726.44 1088.20,726.76 1090.52,727.07 1092.83,727.39 1095.15,727.70 1097.47,728.01 1099.78,728.32 1102.10,728.63 1104.42,728.94 1106.73,729.25 1109.05,729.55 1111.37,729.86 1113.68,730.16 1116.00,730.47 1118.32,730.77 1120.64,731.07 1122.95,731.37 1125.27,731.67 1127.59,731.96 1129.90,732.26 1132.22,732.55 1134.54,732.85 1136.85,733.14 1139.17,733.43 1141.49,733.72 1143.80,734.01 1146.12,734.30 1148.44,734.59"/><polyline fill="none" stroke="#3030c8" stroke-width="1.75" stroke-linejoin="round" points="114.06,465.93 114.43,450.01 114.80,435.09 115.16,421.07 115.53,407.88 115.90,395.44 116.26,383.69 116.63,372.57 117.00,362.05 117.36,352.07 117.73,342.59 118.10,333.59 118.46,325.02 118.83,316.86 119.20,309.08 119.56,301.66 119.93,294.58 120.30,287.81 120.66,281.34 121.03,275.15 121.40,269.23 121.76,263.56 122.13,258.12 122.50,252.92 122.86,247.92 123.23,243.13 123.60,238.53 123.96,234.12 124.33,229.88 124.70,225.82 125.06,221.91 125.43,218.15 125.80,214.54 126.16,211.07 126.53,207.73 126.90,204.53 127.26,201.44 127.63,198.47 128.00,195.62 128.36,192.88 128.73,190.24 129.10,187.70 129.46,185.26 129.83,182.91 130.20,180.65 130.56,178.48 130.93,176.39 131.30,174.38 131.66,172.45 132.03,170.60 132.40,168.82 132.76,167.11 133.13,165.46 133.50,163.88 133.86,162.37 134.23,160.91 134.60,159.51 134.96,158.18 135.33,156.89 135.70,155.66 136.06,154.49 136.43,153.36 136.80,152.28 137.16,151.25 137.53,150.27 137.90,149.33 138.26,148.43 138.63,147.57 139.00,146.76 139.36,145.99 139.73,145.25 140.10,144.55 140.46,143.89 140.83,143.26 141.20,142.67 141.56,142.11 141.93,141.58 142.30,141.08 142.66,140.62 143.03,140.18 143.40,139.78 143.76,139.40 144.13,139.05 144.50,138.72 144.86,138.42 145.23,138.15 145.60,137.90 145.96,137.68 146.33,137.48 146.70,137.30 147.06,137.14 147.43,137.01 147.80,136.89 148.16,136.80 148.53,136.72 148.90,136.67 149.26,136.63 149.63,136.62 150.00,136.62 150.36,136.64 150.73,136.67 151.10,136.73 151.46,136.79 151.83,136.88 152.20,136.98 152.56,137.09 152.93,137.22 153.30,137.37 153.67,137.53 154.03,137.70 154.40,137.88 154.77,138.08 155.13,138.29 155.50,138.52 155.87,138.75 156.23,139.00 156.60,139.26 156.97,139.53 157.33,139.81 157.70,140.10 158.07,140.40 158.43,140.71 158.80,141.04 159.17,141.37 159.53,141.71 159.90,142.06 160.27,142.42 160.63,142.79 161.00,143.16 161.37,143.55 161.73,143.94 162.10,144.34 162.47,144.75 162.83,145.17 163.20,145.59 163.57,146.03 163.93,146.46 164.30,146.91 164.67,147.36 165.03,147.82 165.40,148.29 165.77,148.76 166.13,149.24 166.50,149.72 166.87,150.21 167.23,150.70 167.60,151.20 167.97,151.71 168.33,152.22 168.70,152.74 169.07,153.26 169.43,153.79 169.80,154.32 170.17,154.85 170.53,155.39 170.90,155.94 171.27,156.49 171.63,157.04 172.00,157.60 172.37,158.16 172.73,158.73 173.10,159.29 173.47,159.87 173.83,160.44 174.20,161.02 174.57,161.61 174.93,162.19 175.30,162.78 175.67,163.38 176.03,163.97 176.40,164.57 176.77,165.18 177.13,165.78 177.50,166.39 177.87,167.00 178.23,167.61 178.60,168.23 178.97,168.85 179.33,169.47 179.70,170.09 180.07,170.71 180.43,171.34 180.80,171.97 181.17,172.60 181.53,173.24 181.90,173.87 182.27,174.51 182.63,175.15 183.00,175.79 183.37,176.43 183.73,177.08 184.10,177.72 184.47,178.37 184.83,179.02 185.20,179.67 185.57,180.32 185.93,180.98 186.30,181.63 186.67,182.29 187.03,182.95 187.40,183.60 187.77,184.26 188.13,184.92 188.50,185.59 188.87,186.25 189.23,186.91 189.60,187.58 189.97,188.24 190.33,188.91 190.70,189.58 191.07,190.25 191.43,190.91 191.80,191.58 192.17,192.26 192.53,192.93 192.90,193.60 193.27,194.27 193.63,194.94 194.00,195.62 194.37,196.29 194.73,196.96 195.10,197.64 195.47,198.31 195.83,198.99 196.20,199.67 196.57,200.34 196.93,201.02 197.30,201.70 197.67,202.37 198.03,203.05 198.40,203.73 198.77,204.40 199.13,205.08 199.50,205.76 199.87,206.44 200.23,207.12 200.60,207.79 200.97,208.47 201.33,209.15 201.70,209.83 202.07,210.51 202.43,211.19 202.80,211.86 203.17,212.54 203.53,213.22 203.90,213.90 204.27,214.57 204.63,215.25 205.00,215.93 205.37,216.61 205.73,217.28 206.10,217.96 206.47,218.64 206.83,219.31 207.20,219.99 207.57,220.66 207.93,221.34 208.30,222.01 208.67,222.69 209.03,223.36 209.40,224.04 209.77,224.71 210.13,225.38 210.50,226.06 210.87,226.73 211.23,227.40 211.60,228.07 211.97,228.74 212.33,229.41 212.70,230.09 213.07,230.75 213.43,231.42 213.80,232.09 214.17,232.76 214.53,233.43 214.90,234.10 215.27,234.76 215.63,235.43 216.00,236.09 216.37,236.76 216.73,237.42 217.10,238.09 217.47,238.75 217.84,239.41 218.20,240.08 218.57,240.74 218.94,241.40 219.30,242.06 219.67,242.72 220.04,243.38 220.40,244.03 220.77,244.69 221.14,245.35 221.50,246.00 221.87,246.66 222.24,247.31 222.60,247.97 222.97,248.62 223.34,249.27 223.70,249.93 223.99,250.44 226.31,254.54 228.62,258.61 230.94,262.64 233.26,266.64 235.58,270.61 237.89,274.55 240.21,278.45 242.53,282.32 244.84,286.15 247.16,289.94 249.48,293.70 251.79,297.42 254.11,301.10 256.43,304.75 258.74,308.36 261.06,311.94 263.38,315.48 265.70,318.98 268.01,322.44 270.33,325.88 272.65,329.27 274.96,332.63 277.28,335.95 279.60,339.24 281.91,342.50 284.23,345.72 286.55,348.91 288.86,352.06 291.18,355.18 293.50,358.26 295.82,361.32 298.13,364.34 300.45,367.33 302.77,370.29 305.08,373.22 307.40,376.11 309.72,378.98 312.03,381.82 314.35,384.62 316.67,387.40 318.98,390.15 321.30,392.87 323.62,395.56 325.94,398.23 328.25,400.86 330.57,403.47 332.89,406.06 335.20,408.61 337.52,411.15 339.84,413.65 342.15,416.13 344.47,418.59 346.79,421.02 349.10,423.42 351.42,425.80 353.74,428.16 356.05,430.50 358.37,432.81 360.69,435.10 363.01,437.36 365.32,439.61 367.64,441.83 369.96,444.03 372.27,446.21 374.59,448.37 376.91,450.51 379.22,452.63 381.54,454.72 383.86,456.80 386.17,458.86 388.49,460.90 390.81,462.92 393.13,464.92 395.44,466.90 397.76,468.87 400.08,470.81 402.39,472.74 404.71,474.65 407.03,476.54 409.34,478.42 411.66,480.28 413.98,482.12 416.29,483.95 418.61,485.76 420.93,487.55 423.25,489.33 425.56,491.09 427.88,492.84 430.20,494.57 432.51,496.28 434.83,497.99 437.15,499.67 439.46,501.34 441.78,503.00 444.10,504.64 446.41,506.27 448.73,507.89 451.05,509.49 453.37,511.08 455.68,512.66 458.00,514.22 460.32,515.77 462.63,517.30 464.95,518.83 467.27,520.34 469.58,521.84 471.90,523.33 474.22,524.80 476.53,526.26 478.85,527.71 481.17,529.15 483.48,530.58 485.80,532.00 488.12,533.40 490.44,534.80 492.75,536.18 495.07,537.55 497.39,538.92 499.70,540.27 502.02,541.61 504.34,542.94 506.65,544.26 508.97,545.57 511.29,546.87 513.60,548.16 515.92,549.44 518.24,550.71 520.56,551.97 522.87,553.23 525.19,554.47 527.51,555.70 529.82,556.93 532.14,558.14 534.46,559.35 536.77,560.55 539.09,561.73 541.41,562.91 543.72,564.09 546.04,565.25 548.36,566.40 550.68,567.55 552.99,568.69 555.31,569.82 557.63,570.94 559.94,572.06 562.26,573.16 564.58,574.26 566.89,575.35 569.21,576.44 571.53,577.51 573.84,578.58 576.16,579.64 578.48,580.70 580.80,581.74 583.11,582.78 585.43,583.82 587.75,584.84 590.06,585.86 592.38,586.87 594.70,587.88 597.01,588.88 599.33,589.87 601.65,590.85 603.96,591.83 606.28,592.80 608.60,593.77 610.91,594.73 613.23,595.68 615.55,596.63 617.87,597.57 620.18,598.51 622.50,599.44 624.82,600.36 627.13,601.28 629.45,602.19 631.77,603.09 634.08,603.99 636.40,604.89 638.72,605.78 641.03,606.66 643.35,607.54 645.67,608.41 647.99,609.28 650.30,610.14 652.62,610.99 654.94,611.84 657.25,612.69 659.57,613.53 661.89,614.36 664.20,615.20 666.52,616.02 668.84,616.84 671.15,617.66 673.47,618.47 675.79,619.27 678.11,620.07 680.42,620.87 682.74,621.66 685.06,622.45 687.37,623.23 689.69,624.01 692.01,624.78 694.32,625.55 696.64,626.31 698.96,627.07 701.27,627.83 703.59,628.58 705.91,629.32 708.23,630.07 710.54,630.80 712.86,631.54 715.18,632.27 717.49,632.99 719.81,633.72 722.13,634.43 724.44,635.15 726.76,635.86 729.08,636.56 731.39,637.26 733.71,637.96 736.03,638.65 738.34,639.34 740.66,640.03 742.98,640.71 745.30,641.39 747.61,642.07 749.93,642.74 752.25,643.41 754.56,644.07 756.88,644.73 759.20,645.39 761.51,646.04 763.83,646.69 766.15,647.34 768.46,647.98 770.78,648.62 773.10,649.26 775.42,649.89 777.73,650.52 780.05,651.15 782.37,651.77 784.68,652.39 787.00,653.01 789.32,653.62 791.63,654.23 793.95,654.84 796.27,655.44 798.58,656.04 800.90,656.64 803.22,657.24 805.54,657.83 807.85,658.42 810.17,659.00 812.49,659.59 814.80,660.17 817.12,660.74 819.44,661.32 821.75,661.89 824.07,662.46 826.39,663.02 828.70,663.59 831.02,664.15 833.34,664.70 835.66,665.26 837.97,665.81 840.29,666.36 842.61,666.91 844.92,667.45 847.24,667.99 849.56,668.53 851.87,669.07 854.19,669.60 856.51,670.13 858.82,670.66 861.14,671.19 863.46,671.71 865.78,672.23 868.09,672.75 870.41,673.26 872.73,673.78 875.04,674.29 877.36,674.80 879.68,675.30 881.99,675.81 884.31,676.31 886.63,676.81 888.94,677.31 891.26,677.80 893.58,678.29 895.89,678.78 898.21,679.27 900.53,679.76 902.85,680.24 905.16,680.72 907.48,681.20 909.80,681.68 912.11,682.15 914.43,682.63 916.75,683.10 919.06,683.57 921.38,684.03 923.70,684.50 926.01,684.96 928.33,685.42 930.65,685.88 932.97,686.33 935.28,686.79 937.60,687.24 939.92,687.69 942.23,688.14 944.55,688.58 946.87,689.03 949.18,689.47 951.50,689.91 953.82,690.35 956.13,690.79 958.45,691.22 960.77,691.65 963.09,692.09 965.40,692.51 967.72,692.94 970.04,693.37 972.35,693.79 974.67,694.21 976.99,694.63 979.30,695.05 981.62,695.47 983.94,695.88 986.25,696.30 988.57,696.71 990.89,697.12 993.21,697.52 995.52,697.93 997.84,698.34 1000.16,698.74 1002.47,699.14 1004.79,699.54 1007.11,699.94 1009.42,700.33 1011.74,700.73 1014.06,701.12 1016.37,701.51 1018.69,701.90 1021.01,702.29 1023.32,702.68 1025.64,703.06 1027.96,703.45 1030.28,703.83 1032.59,704.21 1034.91,704.59 1037.23,704.97 1039.54,705.34 1041.86,705.72 1044.18,706.09 1046.49,706.46 1048.81,706.83 1051.13,707.20 1053.44,707.57 1055.76,707.93 1058.08,708.30 1060.40,708.66 1062.71,709.02 1065.03,709.38 1067.35,709.74 1069.66,710.10 1071.98,710.45 1074.30,710.81 1076.61,711.16 1078.93,711.51 1081.25,711.86 1083.56,712.21 1085.88,712.56 1088.20,712.90 1090.52,713.25 1092.83,713.59 1095.15,713.94 1097.47,714.28 1099.78,714.62 1102.10,714.96 1104.42,715.29 1106.73,715.63 1109.05,715.96 1111.37,716.30 1113.68,716.63 1116.00,716.96 1118.32,717.29 1120.64,717.62 1122.95,717.95 1125.27,718.27 1127.59,718.60 1129.90,718.92 1132.22,719.24 1134.54,719.56 1136.85,719.88 1139.17,720.20 1141.49,720.52 1143.80,720.84 1146.12,721.15 1148.44,721.47"/><polyline fill="none" stroke="#dc3444" stroke-width="1.75" stroke-linejoin="round" points="111.81,459.01 112.19,431.88 112.56,407.24 112.94,384.72 113.31,364.05 113.69,345.00 114.06,327.37 114.43,311.01 114.81,295.79 115.18,281.57 115.56,268.28 115.93,255.81 116.31,244.10 116.68,233.08 117.05,222.69 117.43,212.88 117.80,203.62 118.18,194.85 118.55,186.54 118.92,178.66 119.30,171.19 119.67,164.09 120.05,157.33 120.42,150.91 120.80,144.79 121.17,138.97 121.54,133.42 121.92,128.12 122.29,123.07 122.67,118.25 123.04,113.65 123.42,109.26 123.79,105.06 124.16,101.06 124.54,97.22 124.91,93.56 125.29,90.06 125.66,86.72 126.03,83.52 126.41,80.46 126.78,77.54 127.16,74.74 127.53,72.07 127.91,69.52 128.28,67.08 128.65,64.75 129.03,62.52 129.40,60.39 129.78,58.36 130.15,56.42 130.52,54.57 130.90,52.81 131.27,51.13 131.65,49.52 132.02,48.00 132.40,46.55 132.77,45.16 133.14,43.85 133.52,42.60 133.89,41.42 134.27,40.30 134.64,39.24 135.02,38.23 135.39,37.29 135.76,36.39 136.14,35.55 136.51,34.76 136.89,34.01 137.26,33.32 137.63,32.67 138.01,32.06 138.38,31.50 138.76,30.98 139.13,30.49 139.51,30.05 139.88,29.65 140.25,29.28 140.63,28.94 141.00,28.65 141.38,28.38 141.75,28.15 142.13,27.95 142.50,27.78 142.87,27.63 143.25,27.52 143.62,27.44 144.00,27.38 144.37,27.35 144.74,27.35 145.12,27.37 145.49,27.41 145.87,27.48 146.24,27.57 146.62,27.68 146.99,27.81 147.36,27.97 147.74,28.15 148.11,28.34 148.49,28.56 148.86,28.79 149.24,29.04 149.61,29.31 149.98,29.60 150.36,29.90 150.73,30.22 151.11,30.56 151.48,30.91 151.85,31.27 152.23,31.65 152.60,32.05 152.98,32.46 153.35,32.88 153.73,33.32 154.10,33.77 154.47,34.23 154.85,34.70 155.22,35.18 155.60,35.68 155.97,36.19 156.35,36.71 156.72,37.24 157.09,37.77 157.47,38.32 157.84,38.88 158.22,39.45 158.59,40.03 158.96,40.62 159.34,41.21 159.71,41.81 160.09,42.43 160.46,43.05 160.84,43.67 161.21,44.31 161.58,44.95 161.96,45.60 162.33,46.26 162.71,46.92 163.08,47.59 163.46,48.27 163.83,48.95 164.20,49.64 164.58,50.34 164.95,51.04 165.33,51.75 165.70,52.46 166.07,53.18 166.45,53.90 166.82,54.63 167.20,55.36 167.57,56.10 167.95,56.84 168.32,57.58 168.69,58.33 169.07,59.09 169.44,59.85 169.82,60.61 170.19,61.38 170.56,62.15 170.94,62.92 171.31,63.70 171.69,64.48 172.06,65.26 172.44,66.05 172.81,66.84 173.18,67.63 173.56,68.43 173.93,69.23 174.31,70.03 174.68,70.83 175.06,71.64 175.43,72.45 175.80,73.26 176.18,74.07 176.55,74.89 176.93,75.71 177.30,76.53 177.67,77.35 178.05,78.17 178.42,79.00 178.80,79.83 179.17,80.65 179.55,81.49 179.92,82.32 180.29,83.15 180.67,83.99 181.04,84.82 181.42,85.66 181.79,86.50 182.17,87.34 182.54,88.18 182.91,89.02 183.29,89.86 183.66,90.71 184.04,91.55 184.41,92.40 184.78,93.25 185.16,94.09 185.53,94.94 185.91,95.79 186.28,96.64 186.66,97.49 187.03,98.34 187.40,99.19 187.78,100.04 188.15,100.89 188.53,101.75 188.90,102.60 189.28,103.45 189.65,104.30 190.02,105.16 190.40,106.01 190.77,106.86 191.15,107.72 191.52,108.57 191.89,109.43 192.27,110.28 192.64,111.13 193.02,111.99 193.39,112.84 193.77,113.69 194.14,114.55 194.51,115.40 194.89,116.25 195.26,117.11 195.64,117.96 196.01,118.81 196.39,119.66 196.76,120.51 197.13,121.37 197.51,122.22 197.88,123.07 198.26,123.92 198.63,124.77 199.00,125.62 199.38,126.46 199.75,127.31 200.13,128.16 200.50,129.01 200.88,129.85 201.25,130.70 201.62,131.54 202.00,132.39 202.37,133.23 202.75,134.08 203.12,134.92 203.49,135.76 203.87,136.60 204.24,137.44 204.62,138.28 204.99,139.12 205.37,139.96 205.74,140.80 206.11,141.64 206.49,142.47 206.86,143.31 207.24,144.14 207.61,144.98 207.99,145.81 208.36,146.64 208.73,147.47 209.11,148.30 209.48,149.13 209.86,149.96 210.23,150.79 210.60,151.61 210.98,152.44 211.35,153.26 211.73,154.09 212.10,154.91 212.48,155.73 212.85,156.55 213.22,157.37 213.60,158.19 213.97,159.01 214.35,159.82 214.72,160.64 215.10,161.45 215.47,162.26 215.84,163.08 216.22,163.89 216.59,164.70 216.97,165.51 217.34,166.32 217.71,167.12 218.09,167.93 218.46,168.73 218.84,169.54 219.21,170.34 219.59,171.14 219.96,171.94 220.33,172.74 220.71,173.54 221.08,174.33 221.46,175.13 221.83,175.92 222.21,176.72 222.58,177.51 222.95,178.30 223.33,179.09 223.70,179.88 223.99,180.48 226.31,185.33 228.62,190.14 230.94,194.89 233.26,199.60 235.58,204.26 237.89,208.87 240.21,213.44 242.53,217.95 244.84,222.42 247.16,226.83 249.48,231.20 251.79,235.53 254.11,239.80 256.43,244.02 258.74,248.20 261.06,252.33 263.38,256.42 265.70,260.46 268.01,264.45 270.33,268.40 272.65,272.30 274.96,276.16 277.28,279.97 279.60,283.75 281.91,287.47 284.23,291.16 286.55,294.81 288.86,298.41 291.18,301.97 293.50,305.49 295.82,308.98 298.13,312.42 300.45,315.83 302.77,319.19 305.08,322.52 307.40,325.81 309.72,329.07 312.03,332.29 314.35,335.48 316.67,338.63 318.98,341.74 321.30,344.82 323.62,347.87 325.94,350.88 328.25,353.87 330.57,356.82 332.89,359.74 335.20,362.62 337.52,365.48 339.84,368.31 342.15,371.10 344.47,373.87 346.79,376.61 349.10,379.32 351.42,382.00 353.74,384.65 356.05,387.28 358.37,389.88 360.69,392.45 363.01,395.00 365.32,397.52 367.64,400.02 369.96,402.49 372.27,404.93 374.59,407.36 376.91,409.75 379.22,412.13 381.54,414.48 383.86,416.81 386.17,419.11 388.49,421.39 390.81,423.65 393.13,425.89 395.44,428.11 397.76,430.31 400.08,432.48 402.39,434.64 404.71,436.77 407.03,438.88 409.34,440.98 411.66,443.06 413.98,445.11 416.29,447.15 418.61,449.17 420.93,451.17 423.25,453.15 425.56,455.11 427.88,457.06 430.20,458.99 432.51,460.90 434.83,462.79 437.15,464.67 439.46,466.53 441.78,468.38 444.10,470.21 446.41,472.02 448.73,473.82 451.05,475.60 453.37,477.36 455.68,479.11 458.00,480.85 460.32,482.57 462.63,484.28 464.95,485.97 467.27,487.65 469.58,489.31 471.90,490.96 474.22,492.60 476.53,494.22 478.85,495.83 481.17,497.43 483.48,499.01 485.80,500.58 488.12,502.14 490.44,503.69 492.75,505.22 495.07,506.74 497.39,508.25 499.70,509.74 502.02,511.23 504.34,512.70 506.65,514.16 508.97,515.61 511.29,517.05 513.60,518.48 515.92,519.90 518.24,521.30 520.56,522.70 522.87,524.08 525.19,525.46 527.51,526.82 529.82,528.17 532.14,529.52 534.46,530.85 536.77,532.17 539.09,533.49 541.41,534.79 543.72,536.08 546.04,537.37 548.36,538.64 550.68,539.91 552.99,541.16 555.31,542.41 557.63,543.65 559.94,544.88 562.26,546.10 564.58,547.31 566.89,548.52 569.21,549.71 571.53,550.90 573.84,552.08 576.16,553.25 578.48,554.41 580.80,555.56 583.11,556.71 585.43,557.84 587.75,558.97 590.06,560.10 592.38,561.21 594.70,562.32 597.01,563.42 599.33,564.51 601.65,565.59 603.96,566.67 606.28,567.74 608.60,568.81 610.91,569.86 613.23,570.91 615.55,571.95 617.87,572.99 620.18,574.02 622.50,575.04 624.82,576.05 627.13,577.06 629.45,578.06 631.77,579.06 634.08,580.05 636.40,581.03 638.72,582.01 641.03,582.98 643.35,583.94 645.67,584.90 647.99,585.85 650.30,586.80 652.62,587.74 654.94,588.67 657.25,589.60 659.57,590.52 661.89,591.44 664.20,592.35 666.52,593.26 668.84,594.16 671.15,595.05 673.47,595.94 675.79,596.83 678.11,597.71 680.42,598.58 682.74,599.45 685.06,600.31 687.37,601.17 689.69,602.02 692.01,602.87 694.32,603.71 696.64,604.55 698.96,605.38 701.27,606.21 703.59,607.03 705.91,607.85 708.23,608.67 710.54,609.47 712.86,610.28 715.18,611.08 717.49,611.87 719.81,612.66 722.13,613.45 724.44,614.23 726.76,615.01 729.08,615.78 731.39,616.55 733.71,617.31 736.03,618.07 738.34,618.83 740.66,619.58 742.98,620.33 745.30,621.07 747.61,621.81 749.93,622.55 752.25,623.28 754.56,624.00 756.88,624.73 759.20,625.44 761.51,626.16 763.83,626.87 766.15,627.58 768.46,628.28 770.78,628.98 773.10,629.68 775.42,630.37 777.73,631.06 780.05,631.74 782.37,632.43 784.68,633.10 787.00,633.78 789.32,634.45 791.63,635.12 793.95,635.78 796.27,636.44 798.58,637.10 800.90,637.75 803.22,638.40 805.54,639.05 807.85,639.69 810.17,640.33 812.49,640.97 814.80,641.60 817.12,642.23 819.44,642.86 821.75,643.48 824.07,644.10 826.39,644.72 828.70,645.34 831.02,645.95 833.34,646.56 835.66,647.16 837.97,647.77 840.29,648.37 842.61,648.96 844.92,649.56 847.24,650.15 849.56,650.74 851.87,651.32 854.19,651.90 856.51,652.48 858.82,653.06 861.14,653.63 863.46,654.20 865.78,654.77 868.09,655.34 870.41,655.90 872.73,656.46 875.04,657.02 877.36,657.57 879.68,658.13 881.99,658.68 884.31,659.22 886.63,659.77 888.94,660.31 891.26,660.85 893.58,661.39 895.89,661.92 898.21,662.45 900.53,662.98 902.85,663.51 905.16,664.03 907.48,664.56 909.80,665.08 912.11,665.59 914.43,666.11 916.75,666.62 919.06,667.13 921.38,667.64 923.70,668.15 926.01,668.65 928.33,669.15 930.65,669.65 932.97,670.15 935.28,670.64 937.60,671.14 939.92,671.63 942.23,672.11 944.55,672.60 946.87,673.08 949.18,673.57 951.50,674.04 953.82,674.52 956.13,675.00 958.45,675.47 960.77,675.94 963.09,676.41 965.40,676.88 967.72,677.34 970.04,677.81 972.35,678.27 974.67,678.73 976.99,679.18 979.30,679.64 981.62,680.09 983.94,680.54 986.25,680.99 988.57,681.44 990.89,681.89 993.21,682.33 995.52,682.77 997.84,683.21 1000.16,683.65 1002.47,684.09 1004.79,684.52 1007.11,684.96 1009.42,685.39 1011.74,685.82 1014.06,686.24 1016.37,686.67 1018.69,687.09 1021.01,687.52 1023.32,687.94 1025.64,688.35 1027.96,688.77 1030.28,689.19 1032.59,689.60 1034.91,690.01 1037.23,690.42 1039.54,690.83 1041.86,691.24 1044.18,691.64 1046.49,692.05 1048.81,692.45 1051.13,692.85 1053.44,693.25 1055.76,693.65 1058.08,694.04 1060.40,694.44 1062.71,694.83 1065.03,695.22 1067.35,695.61 1069.66,696.00 1071.98,696.39 1074.30,696.77 1076.61,697.15 1078.93,697.54 1081.25,697.92 1083.56,698.30 1085.88,698.67 1088.20,699.05 1090.52,699.42 1092.83,699.80 1095.15,700.17 1097.47,700.54 1099.78,700.91 1102.10,701.28 1104.42,701.64 1106.73,702.01 1109.05,702.37 1111.37,702.73 1113.68,703.09 1116.00,703.45 1118.32,703.81 1120.64,704.17 1122.95,704.52 1125.27,704.88 1127.59,705.23 1129.90,705.58 1132.22,705.93 1134.54,706.28 1136.85,706.63 1139.17,706.97 1141.49,707.32 1143.80,707.66 1146.12,708.01 1148.44,708.35"/>
<g fill="#000" font-family="Liberation Sans, sans-serif" font-size="32"><rect x="138.80" y="23.60" width="15.6" height="15.2" fill="none" stroke="#1e1e1e" stroke-width="1.9"/><line x1="155" y1="30.0" x2="232.2" y2="30.9" stroke="#2e2e2e" stroke-width="2"/><g transform="translate(0,47.20) scale(1,1.03)" fill="#000"><text x="243.50 264.84 304.88 322.67 331.56 349.36 367.16 402.75 429.41 447.20 454.31 463.20 479.20 488.09" y="0" font-size="32">EE2.253Mbits/J</text><path transform="translate(286.19,0) scale(0.015625,-0.015625)" d="M107 385L1088 385L1088 535L107 535ZM107 832L1088 832L1088 982L107 982Z"/><path transform="translate(384.95,0) scale(0.015625,-0.015625)" d="M750 0L610 0L610 1196C540 1126 420 1040 250 958L250 1098C400 1168 520 1280 590 1404L750 1404Z"/></g><g transform="translate(0,47.20) scale(1,1.03)" fill="#000"><text x="531.00 590.59 608.39" y="0" font-size="32">N28</text><path transform="translate(554.11,0) scale(0.015625,-0.015625)" d="M107 385L1088 385L1088 535L107 535ZM107 832L1088 832L1088 982L107 982Z"/><path transform="translate(572.80,0) scale(0.015625,-0.015625)" d="M750 0L610 0L610 1196C540 1126 420 1040 250 958L250 1098C400 1168 520 1280 590 1404L750 1404Z"/></g><rect x="143.60" y="132.90" width="15.6" height="15.2" fill="none" stroke="#1e1e1e" stroke-width="1.9"/><line x1="159.7" y1="142.3" x2="292" y2="145.3" stroke="#2e2e2e" stroke-width="2"/><g transform="translate(0,158.70) scale(1,1.03)" fill="#000"><text x="299.40 320.74 378.57 387.46 405.26 423.06 440.85 458.65 485.31 503.10 510.21 519.10 535.10 543.99" y="0" font-size="32">EE.9732Mbits/J</text><path transform="translate(342.09,0) scale(0.015625,-0.015625)" d="M107 385L1088 385L1088 535L107 535ZM107 832L1088 832L1088 982L107 982Z"/><path transform="translate(360.77,0) scale(0.015625,-0.015625)" d="M750 0L610 0L610 1196C540 1126 420 1040 250 958L250 1098C400 1168 520 1280 590 1404L750 1404Z"/></g><g transform="translate(0,158.70) scale(1,1.03)" fill="#000"><text x="575.80 635.39 653.19" y="0" font-size="32">N45</text><path transform="translate(598.91,0) scale(0.015625,-0.015625)" d="M107 385L1088 385L1088 535L107 535ZM107 832L1088 832L1088 982L107 982Z"/><path transform="translate(617.60,0) scale(0.015625,-0.015625)" d="M750 0L610 0L610 1196C540 1126 420 1040 250 958L250 1098C400 1168 520 1280 590 1404L750 1404Z"/></g><rect x="148.70" y="234.30" width="15.6" height="15.2" fill="none" stroke="#1e1e1e" stroke-width="1.9"/><line x1="165" y1="243.0" x2="337.8" y2="246.8" stroke="#2e2e2e" stroke-width="2"/><g transform="translate(0,259.70) scale(1,1.03)" fill="#000"><text x="347.00 368.34 426.17 435.06 452.86 470.66 488.45 506.25 532.91 550.70 557.81 566.70 582.70 591.59" y="0" font-size="32">EE.7049Mbits/J</text><path transform="translate(389.69,0) scale(0.015625,-0.015625)" d="M107 385L1088 385L1088 535L107 535ZM107 832L1088 832L1088 982L107 982Z"/><path transform="translate(408.38,0) scale(0.015625,-0.015625)" d="M750 0L610 0L610 1196C540 1126 420 1040 250 958L250 1098C400 1168 520 1280 590 1404L750 1404Z"/></g><g transform="translate(0,259.70) scale(1,1.03)" fill="#000"><text x="624.10 683.69 701.49" y="0" font-size="32">N68</text><path transform="translate(647.21,0) scale(0.015625,-0.015625)" d="M107 385L1088 385L1088 535L107 535ZM107 832L1088 832L1088 982L107 982Z"/><path transform="translate(665.90,0) scale(0.015625,-0.015625)" d="M750 0L610 0L610 1196C540 1126 420 1040 250 958L250 1098C400 1168 520 1280 590 1404L750 1404Z"/></g><rect x="155.90" y="337.40" width="15.6" height="15.2" fill="none" stroke="#1e1e1e" stroke-width="1.9"/><line x1="172" y1="341.8" x2="450.8" y2="342.8" stroke="#2e2e2e" stroke-width="2"/><g transform="translate(0,355.60) scale(1,1.03)" fill="#000"><text x="455.90 477.24 535.07 543.96 561.76 579.56 597.35 615.15 641.81 659.60 666.71 675.60 691.60 700.49" y="0" font-size="32">EE.4504Mbits/J</text><path transform="translate(498.59,0) scale(0.015625,-0.015625)" d="M107 385L1088 385L1088 535L107 535ZM107 832L1088 832L1088 982L107 982Z"/><path transform="translate(517.27,0) scale(0.015625,-0.015625)" d="M750 0L610 0L610 1196C540 1126 420 1040 250 958L250 1098C400 1168 520 1280 590 1404L750 1404Z"/></g><g transform="translate(0,355.60) scale(1,1.03)" fill="#000"><text x="734.00 793.59 811.39" y="0" font-size="32">N97</text><path transform="translate(757.11,0) scale(0.015625,-0.015625)" d="M107 385L1088 385L1088 535L107 535ZM107 832L1088 832L1088 982L107 982Z"/><path transform="translate(775.80,0) scale(0.015625,-0.015625)" d="M750 0L610 0L610 1196C540 1126 420 1040 250 958L250 1098C400 1168 520 1280 590 1404L750 1404Z"/></g><rect x="165.80" y="429.40" width="15.6" height="15.2" fill="none" stroke="#1e1e1e" stroke-width="1.9"/><line x1="182" y1="436.0" x2="504.6" y2="440.7" stroke="#2e2e2e" stroke-width="2"/><g transform="translate(0,453.20) scale(1,1.03)" fill="#000"><text x="517.70 539.04 596.87 605.76 659.15 676.95 703.61 721.40 728.51 737.40 753.40 762.29" y="0" font-size="32">EE.26Mbits/J</text><path transform="translate(560.39,0) scale(0.015625,-0.015625)" d="M107 385L1088 385L1088 535L107 535ZM107 832L1088 832L1088 982L107 982Z"/><path transform="translate(579.08,0) scale(0.015625,-0.015625)" d="M750 0L610 0L610 1196C540 1126 420 1040 250 958L250 1098C400 1168 520 1280 590 1404L750 1404Z"/><path transform="translate(623.56,0) scale(0.015625,-0.015625)" d="M750 0L610 0L610 1196C540 1126 420 1040 250 958L250 1098C400 1168 520 1280 590 1404L750 1404Z"/><path transform="translate(641.36,0) scale(0.015625,-0.015625)" d="M750 0L610 0L610 1196C540 1126 420 1040 250 958L250 1098C400 1168 520 1280 590 1404L750 1404Z"/></g><g transform="translate(0,453.20) scale(1,1.03)" fill="#000"><text x="795.10 836.90 854.69 872.49" y="0" font-size="32">N235</text><path transform="translate(818.21,0) scale(0.015625,-0.015625)" d="M107 385L1088 385L1088 535L107 535ZM107 832L1088 832L1088 982L107 982Z"/></g></g>
<g fill="#1e1e1e" font-family="Liberation Sans, sans-serif" font-size="29"><rect x="885" y="35.2" width="238.4" height="204.4" fill="#fff" stroke="#262626" stroke-width="1.6"/><line x1="894.6" y1="58.1" x2="991.4" y2="58.1" stroke="#000000" stroke-width="1.7"/><g transform="translate(0,70.60) scale(1,1.03)" fill="#1e1e1e"><text x="996.10 1005.76 1021.89 1038.01 1054.14 1073.49" y="0" font-size="29">-90dBm</text></g><line x1="894.6" y1="98.3" x2="991.4" y2="98.3" stroke="#b048b0" stroke-width="1.7"/><g transform="translate(0,109.60) scale(1,1.03)" fill="#1e1e1e"><text x="996.10 1005.76 1021.89 1038.01 1054.14 1073.49" y="0" font-size="29">-94dBm</text></g><line x1="894.6" y1="139.0" x2="991.4" y2="139.0" stroke="#48cccc" stroke-width="1.7"/><g transform="translate(0,149.30) scale(1,1.03)" fill="#1e1e1e"><text x="996.10 1005.76 1021.89 1038.01 1054.14 1073.49" y="0" font-size="29">-98dBm</text></g><line x1="894.6" y1="177.1" x2="991.4" y2="177.1" stroke="#2a2a90" stroke-width="1.7"/><g transform="translate(0,189.00) scale(1,1.03)" fill="#1e1e1e"><text x="996.10 1021.89 1038.01 1054.14 1070.27 1089.61" y="0" font-size="29">-02dBm</text><path transform="translate(1005.76,0) scale(0.014160,-0.014160)" d="M750 0L610 0L610 1196C540 1126 420 1040 250 958L250 1098C400 1168 520 1280 590 1404L750 1404Z"/></g><line x1="894.6" y1="217.2" x2="991.4" y2="217.2" stroke="#b83438" stroke-width="1.7"/><g transform="translate(0,228.40) scale(1,1.03)" fill="#1e1e1e"><text x="996.10 1021.89 1038.01 1054.14 1070.27 1089.61" y="0" font-size="29">-06dBm</text><path transform="translate(1005.76,0) scale(0.014160,-0.014160)" d="M750 0L610 0L610 1196C540 1126 420 1040 250 958L250 1098C400 1168 520 1280 590 1404L750 1404Z"/></g></g>
<rect x="109.1" y="10.3" width="1038.70" height="817.50" fill="none" stroke="#222" stroke-width="2.1"/>
<g stroke="#222" stroke-width="2"><line x1="252.60" y1="827.8" x2="252.60" y2="817.3"/><line x1="252.60" y1="10.3" x2="252.60" y2="20.8"/><line x1="397.09" y1="827.8" x2="397.09" y2="817.3"/><line x1="397.09" y1="10.3" x2="397.09" y2="20.8"/><line x1="541.58" y1="827.8" x2="541.58" y2="817.3"/><line x1="541.58" y1="10.3" x2="541.58" y2="20.8"/><line x1="686.07" y1="827.8" x2="686.07" y2="817.3"/><line x1="686.07" y1="10.3" x2="686.07" y2="20.8"/><line x1="830.56" y1="827.8" x2="830.56" y2="817.3"/><line x1="830.56" y1="10.3" x2="830.56" y2="20.8"/><line x1="975.05" y1="827.8" x2="975.05" y2="817.3"/><line x1="975.05" y1="10.3" x2="975.05" y2="20.8"/><line x1="1119.54" y1="827.8" x2="1119.54" y2="817.3"/><line x1="1119.54" y1="10.3" x2="1119.54" y2="20.8"/><line x1="109.1" y1="750.44" x2="119.6" y2="750.44"/><line x1="1147.8" y1="750.44" x2="1137.3" y2="750.44"/><line x1="109.1" y1="672.42" x2="119.6" y2="672.42"/><line x1="1147.8" y1="672.42" x2="1137.3" y2="672.42"/><line x1="109.1" y1="594.41" x2="119.6" y2="594.41"/><line x1="1147.8" y1="594.41" x2="1137.3" y2="594.41"/><line x1="109.1" y1="516.39" x2="119.6" y2="516.39"/><line x1="1147.8" y1="516.39" x2="1137.3" y2="516.39"/><line x1="109.1" y1="438.37" x2="119.6" y2="438.37"/><line x1="1147.8" y1="438.37" x2="1137.3" y2="438.37"/><line x1="109.1" y1="360.36" x2="119.6" y2="360.36"/><line x1="1147.8" y1="360.36" x2="1137.3" y2="360.36"/><line x1="109.1" y1="282.34" x2="119.6" y2="282.34"/><line x1="1147.8" y1="282.34" x2="1137.3" y2="282.34"/><line x1="109.1" y1="204.33" x2="119.6" y2="204.33"/><line x1="1147.8" y1="204.33" x2="1137.3" y2="204.33"/><line x1="109.1" y1="126.31" x2="119.6" y2="126.31"/><line x1="1147.8" y1="126.31" x2="1137.3" y2="126.31"/><line x1="109.1" y1="48.29" x2="119.6" y2="48.29"/><line x1="1147.8" y1="48.29" x2="1137.3" y2="48.29"/></g>
<g fill="#262626" font-family="Liberation Sans, sans-serif" font-size="32"><g transform="translate(0,841.45) scale(1,1.03)" fill="#262626"><text x="49.32 67.11 76.00" y="0" font-size="32">0.2</text></g><g transform="translate(0,763.44) scale(1,1.03)" fill="#262626"><text x="49.32 67.11 76.00" y="0" font-size="32">0.4</text></g><g transform="translate(0,685.42) scale(1,1.03)" fill="#262626"><text x="49.32 67.11 76.00" y="0" font-size="32">0.6</text></g><g transform="translate(0,607.41) scale(1,1.03)" fill="#262626"><text x="49.32 67.11 76.00" y="0" font-size="32">0.8</text></g><g transform="translate(0,529.39) scale(1,1.03)" fill="#262626"><path transform="translate(76.00,0) scale(0.015625,-0.015625)" d="M750 0L610 0L610 1196C540 1126 420 1040 250 958L250 1098C400 1168 520 1280 590 1404L750 1404Z"/></g><g transform="translate(0,451.37) scale(1,1.03)" fill="#262626"><text x="67.11 76.00" y="0" font-size="32">.2</text><path transform="translate(49.32,0) scale(0.015625,-0.015625)" d="M750 0L610 0L610 1196C540 1126 420 1040 250 958L250 1098C400 1168 520 1280 590 1404L750 1404Z"/></g><g transform="translate(0,373.36) scale(1,1.03)" fill="#262626"><text x="67.11 76.00" y="0" font-size="32">.4</text><path transform="translate(49.32,0) scale(0.015625,-0.015625)" d="M750 0L610 0L610 1196C540 1126 420 1040 250 958L250 1098C400 1168 520 1280 590 1404L750 1404Z"/></g><g transform="translate(0,295.34) scale(1,1.03)" fill="#262626"><text x="67.11 76.00" y="0" font-size="32">.6</text><path transform="translate(49.32,0) scale(0.015625,-0.015625)" d="M750 0L610 0L610 1196C540 1126 420 1040 250 958L250 1098C400 1168 520 1280 590 1404L750 1404Z"/></g><g transform="translate(0,217.33) scale(1,1.03)" fill="#262626"><text x="67.11 76.00" y="0" font-size="32">.8</text><path transform="translate(49.32,0) scale(0.015625,-0.015625)" d="M750 0L610 0L610 1196C540 1126 420 1040 250 958L250 1098C400 1168 520 1280 590 1404L750 1404Z"/></g><g transform="translate(0,139.31) scale(1,1.03)" fill="#262626"><text x="76.00" y="0" font-size="32">2</text></g><g transform="translate(0,61.29) scale(1,1.03)" fill="#262626"><text x="49.32 67.11 76.00" y="0" font-size="32">2.2</text></g><g transform="translate(0,874.90) scale(1,1.03)" fill="#262626"><text x="99.21" y="0" font-size="32">0</text></g><g transform="translate(0,874.90) scale(1,1.03)" fill="#262626"><text x="225.90 243.70 261.50" y="0" font-size="32">500</text></g><g transform="translate(0,874.90) scale(1,1.03)" fill="#262626"><text x="379.29 397.09 414.89" y="0" font-size="32">000</text><path transform="translate(361.50,0) scale(0.015625,-0.015625)" d="M750 0L610 0L610 1196C540 1126 420 1040 250 958L250 1098C400 1168 520 1280 590 1404L750 1404Z"/></g><g transform="translate(0,874.90) scale(1,1.03)" fill="#262626"><text x="523.78 541.58 559.38" y="0" font-size="32">500</text><path transform="translate(505.99,0) scale(0.015625,-0.015625)" d="M750 0L610 0L610 1196C540 1126 420 1040 250 958L250 1098C400 1168 520 1280 590 1404L750 1404Z"/></g><g transform="translate(0,874.90) scale(1,1.03)" fill="#262626"><text x="650.48 668.27 686.07 703.87" y="0" font-size="32">2000</text></g><g transform="translate(0,874.90) scale(1,1.03)" fill="#262626"><text x="794.97 812.76 830.56 848.36" y="0" font-size="32">2500</text></g><g transform="translate(0,874.90) scale(1,1.03)" fill="#262626"><text x="939.46 957.25 975.05 992.85" y="0" font-size="32">3000</text></g><g transform="translate(0,874.90) scale(1,1.03)" fill="#262626"><text x="1083.95 1101.74 1119.54 1137.34" y="0" font-size="32">3500</text></g></g>
<text x="629" y="921.4" text-anchor="middle" fill="#383838" font-family="Liberation Sans, sans-serif" font-size="35" letter-spacing="0.1">The number of mirrors N</text>
<text transform="translate(30.6,419.8) rotate(-90)" text-anchor="middle" fill="#262626" font-family="Liberation Sans, sans-serif" font-size="35">EE  Mbps/J</text>
</svg></body></html>
